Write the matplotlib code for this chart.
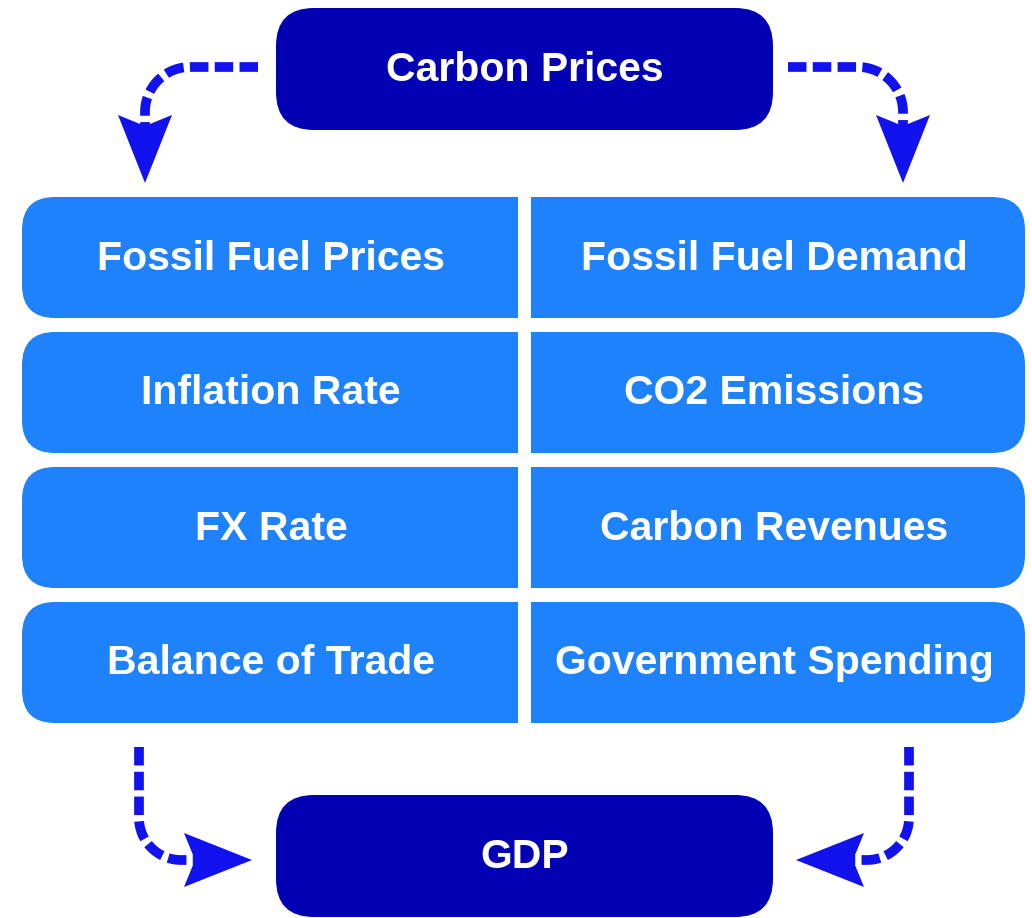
import numpy as np
import matplotlib
matplotlib.use("Agg")
from matplotlib import pyplot as plt
from matplotlib.patches import FancyBboxPatch, Rectangle, Polygon

# diagram content
top_label = "Carbon Prices"
bottom_label = "GDP"
left_labels = ["Fossil Fuel Prices", "Inflation Rate", "FX Rate", "Balance of Trade"]
right_labels = ["Fossil Fuel Demand", "CO2 Emissions", "Carbon Revenues", "Government Spending"]

# colours
navy = "#0202B4"
blue = "#1E82FC"
arrow_blue = "#1212EE"

W, H = 1032, 918
fig = plt.figure(figsize=(W / 100, H / 100), dpi=100)
ax = fig.add_axes([0, 0, 1, 1])
ax.set_xlim(0, W)
ax.set_ylim(H, 0)
ax.axis("off")

font = dict(family=["Liberation Sans", "DejaVu Sans"], weight="bold", color="white",
            fontsize=29.5, ha="center", va="center")


def pill(x0, y0, x1, y1, color, r):
    ax.add_patch(FancyBboxPatch((x0, y0), x1 - x0, y1 - y0,
                                boxstyle=f"round,pad=0,rounding_size={r}",
                                fc=color, ec="none"))


# top and bottom boxes
box_x0, box_x1 = 276, 773
pill(box_x0, 8, box_x1, 130, navy, 38)
ax.text((box_x0 + box_x1) / 2, 70, top_label, **font)
pill(box_x0, 795, box_x1, 917, navy, 38)
ax.text((box_x0 + box_x1) / 2, 857, bottom_label, **font)

# grid of drivers
grid_x0, grid_x1 = 22, 1025
gap_x0, gap_x1 = 518, 531
row_top, row_h, row_step = 197, 121, 135
for i, (lt, rt) in enumerate(zip(left_labels, right_labels)):
    y0 = row_top + i * row_step
    pill(grid_x0, y0, grid_x1, y0 + row_h, blue, 33)
    ax.text((grid_x0 + gap_x0) / 2 + 1, y0 + row_h / 2 + 1, lt, **font)
    ax.text((gap_x1 + grid_x1) / 2 - 4, y0 + row_h / 2 + 1, rt, **font)
ax.add_patch(Rectangle((gap_x0, row_top - 5), gap_x1 - gap_x0,
                       3 * row_step + row_h + 10, fc="white", ec="none", zorder=3))


def dashed_arrow(start, corner, end_dir, r, tip_len=68, head_w=27, notch=11):
    """straight run from start to corner, quarter turn of radius r, then head"""
    sx, sy = start
    cx, cy = corner
    d1 = np.array([np.sign(cx - sx), np.sign(cy - sy)], dtype=float)
    d2 = np.array(end_dir, dtype=float)
    p_a = np.array(corner) - d1 * r
    centre = p_a + d2 * r
    a0 = np.arctan2(p_a[1] - centre[1], p_a[0] - centre[0])
    p_b = np.array(corner) + d2 * r
    a1 = np.arctan2(p_b[1] - centre[1], p_b[0] - centre[0])
    da = (a1 - a0 + np.pi) % (2 * np.pi) - np.pi
    t = np.linspace(a0, a0 + da, 30)
    arc = np.column_stack([centre[0] + r * np.cos(t), centre[1] + r * np.sin(t)])
    back = p_b + d2 * 14
    pts = np.vstack([[sx, sy], arc, back])
    ax.plot(pts[:, 0], pts[:, 1], color=arrow_blue, lw=7,
            linestyle=(0, (1.9, 0.65)), dash_capstyle="butt", solid_capstyle="butt")
    perp = np.array([-d2[1], d2[0]])
    tip = back + d2 * (tip_len - notch)
    base = tip - d2 * tip_len
    head = [tip, base + perp * head_w, tip - d2 * (tip_len - notch), base - perp * head_w]
    ax.add_patch(Polygon(head, closed=True, fc=arrow_blue, ec="none"))


dashed_arrow((258, 67), (145, 67), (0, 1), 45)
dashed_arrow((788, 67), (903, 67), (0, 1), 45)
dashed_arrow((139, 747), (139, 860), (1, 0), 42)
dashed_arrow((909, 747), (909, 860), (-1, 0), 42)

fig.savefig("out.png", dpi=100, facecolor="white")
